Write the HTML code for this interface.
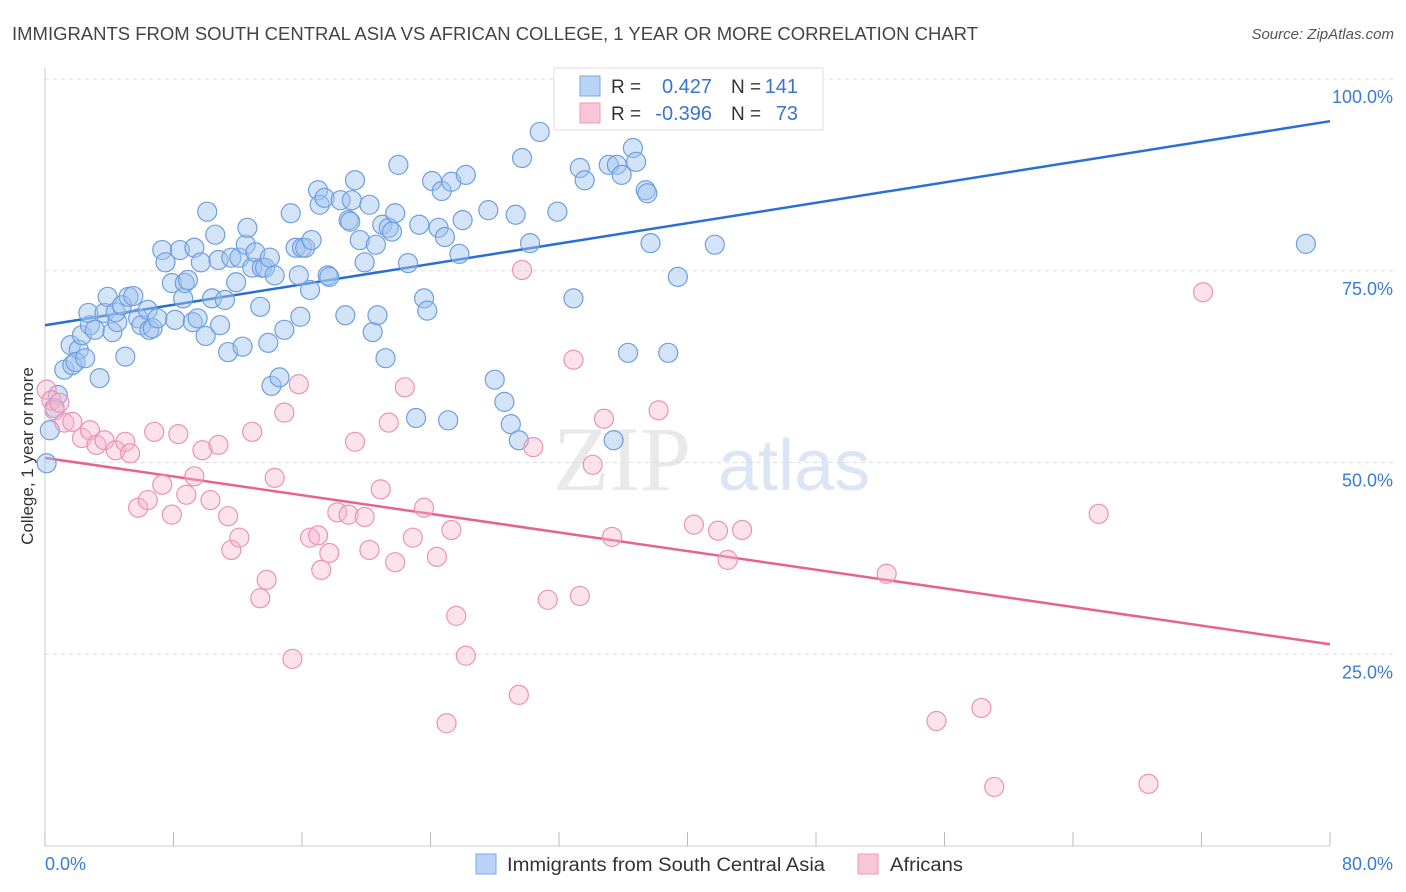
<!DOCTYPE html>
<html><head><meta charset="utf-8">
<style>
body{margin:0;background:#fff;font-family:"Liberation Sans",sans-serif;}
svg{display:block}
</style></head>
<body>
<svg id="chart" width="1406" height="892">
<text x="12" y="40" font-size="18" fill="#444" textLength="966" lengthAdjust="spacingAndGlyphs">IMMIGRANTS FROM SOUTH CENTRAL ASIA VS AFRICAN COLLEGE, 1 YEAR OR MORE CORRELATION CHART</text>
<text x="1394" y="39" font-size="15" fill="#555" font-style="italic" text-anchor="end">Source: ZipAtlas.com</text>
<text transform="translate(33,456) rotate(-90)" font-size="17" fill="#333" text-anchor="middle">College, 1 year or more</text>
<g>
<text x="553" y="490" font-size="92" fill="#d8d8d8" font-family="Liberation Serif,serif" opacity="0.55">ZIP</text>
<text x="718" y="490" font-size="72" fill="#bcd3ee" opacity="0.55">atlas</text>
</g>
<g id="grid"></g>
<g id="axes"></g>
<g id="lines"></g>
<g id="pts"></g>
<g>
<rect x="554" y="68" width="269" height="62" fill="#fff" stroke="#ddd"/>
<rect x="580" y="76" width="20" height="20" fill="#b8d3f5" stroke="#7aa8e6"/>
<rect x="580" y="103" width="20" height="20" fill="#f8c6d6" stroke="#ee9ab6"/>
<text x="611" y="93" font-size="19" fill="#333">R =</text><text x="712" y="93" font-size="20" fill="#3a74d0" text-anchor="end">0.427</text>
<text x="731" y="93" font-size="19" fill="#333">N =</text><text x="798" y="93" font-size="20" fill="#3a74d0" text-anchor="end">141</text>
<text x="611" y="120" font-size="19" fill="#333">R =</text><text x="712" y="120" font-size="20" fill="#3a74d0" text-anchor="end">-0.396</text>
<text x="731" y="120" font-size="19" fill="#333">N =</text><text x="798" y="120" font-size="20" fill="#3a74d0" text-anchor="end">73</text>
</g>
<g>
<rect x="476" y="854" width="20" height="20" fill="#b8d3f5" stroke="#7aa8e6"/>
<text x="507" y="871" font-size="19" fill="#333" textLength="318" lengthAdjust="spacingAndGlyphs">Immigrants from South Central Asia</text>
<rect x="858" y="854" width="20" height="20" fill="#f8c6d6" stroke="#ee9ab6"/>
<text x="890" y="871" font-size="19" fill="#333" textLength="73" lengthAdjust="spacingAndGlyphs">Africans</text>
</g>
</svg>
<script>
const blueX=[0.1,0.3,0.8,0.6,1.2,1.6,1.7,2.1,1.9,2.5,2.3,2.8,2.7,3.1,3.4,3.7,3.9,4.2,4.5,4.4,4.8,5.0,5.2,5.5,5.8,6.0,6.4,6.5,6.7,7.0,7.3,7.5,7.9,8.1,8.4,8.6,8.7,8.9,9.2,9.3,9.5,9.7,10.0,10.1,10.4,10.6,10.8,10.9,11.2,11.4,11.6,11.9,12.1,12.3,12.5,12.6,12.9,13.1,13.4,13.5,13.7,13.9,14.0,14.1,14.3,14.6,14.9,15.3,15.6,15.8,15.9,16.0,16.2,16.5,16.6,17.0,17.1,17.4,17.6,17.7,18.4,18.7,18.9,19.0,19.1,19.3,19.6,19.9,20.2,20.4,20.6,20.7,21.0,21.2,21.4,21.6,21.8,22.0,22.6,23.1,23.3,23.6,23.8,24.1,24.5,24.7,24.9,25.1,25.3,25.8,26.0,26.2,27.6,28.0,28.6,29.0,29.3,29.5,29.7,30.2,30.8,31.9,32.9,33.3,33.6,35.1,35.4,35.6,35.9,36.3,36.6,36.8,37.4,37.5,37.7,38.8,39.4,41.7,78.5];
const blueY=[49.9,54.2,58.8,57.1,62.1,65.3,62.7,64.7,63.1,63.6,66.6,67.9,69.5,67.3,61.0,69.5,71.6,67.0,68.3,69.6,70.5,63.8,71.6,71.7,68.8,67.9,69.9,67.3,67.5,68.8,77.7,76.1,73.4,68.6,77.7,71.4,73.4,73.8,68.3,78.0,68.8,76.1,66.5,82.7,71.4,79.7,76.4,67.9,71.2,64.4,76.7,73.5,76.7,65.1,78.4,80.6,75.4,77.4,70.3,75.4,75.4,65.6,76.7,60.0,74.4,61.1,67.3,82.5,78.0,74.4,69.0,78.0,78.0,72.5,79.0,85.5,83.6,84.5,74.4,74.2,84.2,69.2,81.6,81.4,84.2,86.8,79.0,76.1,83.6,67.0,78.4,69.2,81.0,63.6,80.6,80.1,82.5,88.8,76.0,55.8,81.0,71.4,69.8,86.7,80.6,85.4,79.4,55.5,86.6,77.2,81.6,87.5,82.9,60.8,57.9,55.0,82.3,52.9,89.7,78.6,93.1,82.7,71.4,88.4,86.8,88.8,52.9,88.8,87.5,64.3,91.0,89.2,85.5,85.1,78.6,64.3,74.2,78.4,78.5];
const pinkX=[0.1,0.4,0.6,0.9,1.2,1.7,2.3,2.8,3.2,3.7,4.4,5.0,5.3,5.8,6.4,6.8,7.3,7.9,8.3,8.8,9.3,9.8,10.3,10.8,11.4,11.6,12.1,12.9,13.4,13.8,14.3,14.9,15.4,15.8,16.5,17.0,17.2,17.7,18.2,18.9,19.3,19.9,20.2,20.9,21.4,21.8,22.4,22.9,23.6,24.4,25.3,25.6,26.2,25.0,29.5,29.7,30.4,31.3,32.9,33.3,34.1,34.8,35.3,38.2,40.4,41.9,42.5,43.4,52.4,55.5,58.3,59.1,65.6,68.7,72.1];
const pinkY=[59.5,58.1,56.8,57.8,55.2,55.3,53.2,54.2,52.3,52.9,51.6,52.7,51.2,44.1,45.1,54.0,47.1,43.2,53.7,45.8,48.2,51.6,45.1,52.3,43.0,38.6,40.2,54.0,32.3,34.7,48.0,56.5,24.4,60.2,40.2,40.5,36.0,38.2,43.5,43.2,52.7,42.9,38.6,46.5,55.2,37.0,59.8,40.2,44.1,37.7,41.2,30.0,24.8,16.0,19.7,75.1,52.0,32.1,63.4,32.6,49.7,55.7,40.3,56.8,41.9,41.1,37.3,41.2,35.5,16.3,18.0,7.7,43.3,8.1,72.2];
const blueTrend=[67.9,94.5];
const pinkTrend=[50.6,26.3];
const yTicks=[25,50,75,100];
const yTickLabels=["25.0%","50.0%","75.0%","100.0%"];
const xTicks=[0,8,16,24,32,40,48,56,64,72,80];

const NS="http://www.w3.org/2000/svg";
const X=v=>45+v/80*1285;
const Y=v=>846-v/100*767;
function mk(tag,attrs,parent){const e=document.createElementNS(NS,tag);for(const k in attrs)e.setAttribute(k,attrs[k]);document.getElementById(parent).appendChild(e);return e;}

yTicks.forEach((t,i)=>{
  const g=mk('line',{x1:45,x2:1393,y1:Y(t),y2:Y(t),stroke:'#ddd','stroke-dasharray':'4,4'},'grid');
  
  
  const l=mk('text',{x:1393,y:Y(t)+24,'font-size':18,fill:'#3a7bd5','text-anchor':'end'},'grid');
  l.textContent=yTickLabels[i];
  
  
});
const ax=mk('line',{x1:45,x2:45,y1:68,y2:846,stroke:'#ccc'},'axes');


const bx=mk('line',{x1:45,x2:1330,y1:846,y2:846,stroke:'#ccc'},'axes');


xTicks.forEach(t=>{
  const tk=mk('line',{x1:X(t),x2:X(t),y1:832,y2:846,stroke:'#bbb'},'axes');
  
  
});
const xl0=mk('text',{x:45,y:870,'font-size':18,fill:'#3a7bd5'},'axes');xl0.textContent=xTicks[0].toFixed(1)+'%';


const xl1=mk('text',{x:1393,y:870,'font-size':18,fill:'#3a7bd5','text-anchor':'end'},'axes');xl1.textContent=xTicks[xTicks.length-1].toFixed(1)+'%';



blueX.forEach((x,i)=>{
  const c=mk('circle',{cx:X(x),cy:Y(blueY[i]),r:9.5,fill:'rgba(160,196,240,0.45)',stroke:'#6f9fdf','stroke-width':1.2},'pts');
  
  
});
pinkX.forEach((x,i)=>{
  const c=mk('circle',{cx:X(x),cy:Y(pinkY[i]),r:9.5,fill:'rgba(246,182,204,0.4)',stroke:'#ec93b2','stroke-width':1.2},'pts');
  
  
});
const bl=mk('line',{x1:X(0),y1:Y(blueTrend[0]),x2:X(80),y2:Y(blueTrend[1]),stroke:'#2a6fd6','stroke-width':2.5},'lines');


const pl=mk('line',{x1:X(0),y1:Y(pinkTrend[0]),x2:X(80),y2:Y(pinkTrend[1]),stroke:'#e8628f','stroke-width':2.5},'lines');


</script>
</body></html>
